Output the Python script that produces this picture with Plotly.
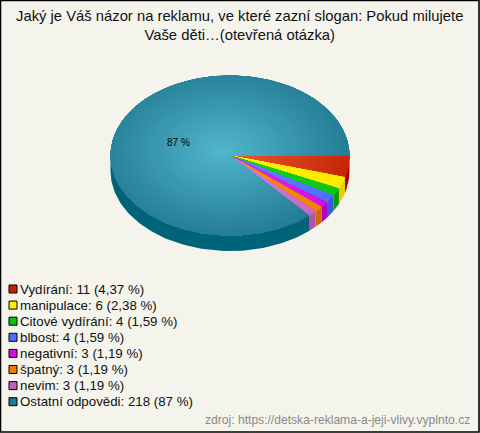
import math
import plotly.graph_objects as go

# ---- data ----
categories = ["Vydírání", "manipulace", "Citové vydírání", "blbost", "negativní", "špatný", "nevim", "Ostatní odpovědi"]
counts = [11, 6, 4, 4, 3, 3, 3, 218]
percent_labels = ["4,37", "2,38", "1,59", "1,59", "1,19", "1,19", "1,19", "87"]
inner_colors = ["#f05a35", "#fff200", "#14d814", "#5f86ff", "#e22af0", "#ff9410", "#d682d6", "#52b6cc"]
outer_colors = ["#c42200", "#ffe800", "#0cc40c", "#4f6fff", "#d010e0", "#f08000", "#c468c4", "#1f7890"]
side_colors = ["#a80000", "#e8d000", "#0a9a0a", "#3a58e0", "#b800c0", "#cc6a00", "#b054a8", "#006478"]
legend_colors = ["#c42200", "#ffee00", "#0cc40c", "#4f6fff", "#d010e0", "#f08000", "#c060c0", "#1f7a90"]
title_text = "Jaký je Váš názor na reklamu, ve které zazní slogan: Pokud milujete<br>Vaše děti…(otevřená otázka)"
source_text = "zdroj: https://detska-reklama-a-jeji-vlivy.vyplnto.cz"
big_label = "87 %"

W, H = 480, 433
BG = "#f5f4ec"
CX, CY, RX, RY, DEPTH = 230.0, 155.5, 119.5, 80.0, 15.5
x_range = [-CX / RX, (W - CX) / RX]
y_range = [(CY - H) / RY, CY / RY]
depth = DEPTH / RY
FOCUS = (-0.06, 0.06)
N_BANDS = 28


def hex_mix(a, b, t):
    ca = [int(a[i:i + 2], 16) for i in (1, 3, 5)]
    cb = [int(b[i:i + 2], 16) for i in (1, 3, 5)]
    return "rgb(%d,%d,%d)" % tuple(round(p + (q - p) * t) for p, q in zip(ca, cb))


def clip(poly, clip_poly):
    # Sutherland-Hodgman against a convex counter-clockwise polygon
    out = poly
    for i in range(len(clip_poly)):
        ax, ay = clip_poly[i]
        bx, by = clip_poly[(i + 1) % len(clip_poly)]
        inp, out = out, []
        if not inp:
            break
        def side(p):
            return (bx - ax) * (p[1] - ay) - (by - ay) * (p[0] - ax)
        for j in range(len(inp)):
            p, q = inp[j], inp[(j + 1) % len(inp)]
            sp, sq = side(p), side(q)
            if sp >= 0:
                out.append(p)
            if (sp >= 0) != (sq >= 0):
                t = sp / (sp - sq)
                out.append((p[0] + (q[0] - p[0]) * t, p[1] + (q[1] - p[1]) * t))
    return out


def arc(t0, t1, dy=0.0):
    n = max(2, int(abs(t1 - t0) / (2 * math.pi) * 260) + 2)
    # angles run clockwise from the east on screen, so y is negative sine
    return [(math.cos(t0 + (t1 - t0) * i / (n - 1)), -math.sin(t0 + (t1 - t0) * i / (n - 1)) - dy) for i in range(n)]


def add_poly(fig, pts, color):
    xs = [p[0] for p in pts] + [pts[0][0]]
    ys = [p[1] for p in pts] + [pts[0][1]]
    fig.add_trace(go.Scatter(x=xs, y=ys, mode="lines", fill="toself", fillcolor=color,
                             line=dict(width=0, color=color), hoverinfo="skip", showlegend=False))


total = sum(counts)
fig = go.Figure()
bounds = []
acc = 0
for c in counts:
    bounds.append((acc / total * 2 * math.pi, (acc + c) / total * 2 * math.pi))
    acc += c

# extruded front wall
for (t0, t1), col in zip(bounds, side_colors):
    a, b = t0, min(t1, math.pi)
    if a < b:
        add_poly(fig, arc(a, b) + arc(b, a, depth), col)

# top faces with a stepped radial shade around a common focus
for (t0, t1), inner, outer in zip(bounds, inner_colors, outer_colors):
    wedge = [(0.0, 0.0)] + arc(t0, t1)
    add_poly(fig, wedge, outer)
    for k in range(N_BANDS, 0, -1):
        r = 1.15 * k / N_BANDS
        disk = [(FOCUS[0] + r * math.cos(2 * math.pi * i / 48), FOCUS[1] + r * math.sin(2 * math.pi * i / 48)) for i in range(48)]
        part = clip(wedge, disk)
        if len(part) >= 3:
            add_poly(fig, part, hex_mix(inner, outer, (k - 0.5) / N_BANDS))

shapes = [dict(type="rect", xref="paper", yref="paper", x0=0.5 / W, x1=1 - 1 / W, y0=1 / H, y1=1 - 0.5 / H,
               line=dict(color="#000000", width=1.6), fillcolor="rgba(0,0,0,0)")]
annotations = [
    dict(x=239.5 / W, y=1 - 25.5 / H, xref="paper", yref="paper", text=title_text, showarrow=False, align="center",
         xanchor="center", yanchor="middle", font=dict(family="Liberation Sans", size=14.8, color="#111111")),
    dict(x=178.5 / W, y=1 - 142 / H, xref="paper", yref="paper", text=big_label, showarrow=False,
         xanchor="center", yanchor="middle", font=dict(family="Liberation Sans", size=10, color="#000000")),
    dict(x=472 / W, y=1 - 420 / H, xref="paper", yref="paper", text=source_text, showarrow=False,
         xanchor="right", yanchor="middle", font=dict(family="Liberation Sans", size=12.1, color="#8a8a8a")),
]
for i, (name, n, pct, col) in enumerate(zip(categories, counts, percent_labels, legend_colors)):
    yc = 289 + i * 16.1
    shapes.append(dict(type="rect", xref="paper", yref="paper", x0=9 / W, x1=17 / W,
                       y0=1 - (yc + 4) / H, y1=1 - (yc - 4) / H,
                       line=dict(color="#000000", width=1), fillcolor=col))
    annotations.append(dict(x=17.5 / W, y=1 - yc / H, xref="paper", yref="paper",
                            text=f"{name}: {n} ({pct} %)", showarrow=False,
                            xanchor="left", yanchor="middle",
                            font=dict(family="Liberation Sans", size=13.3, color="#111111")))

fig.update_layout(
    width=W, height=H, margin=dict(l=0, r=0, t=0, b=0), paper_bgcolor=BG, plot_bgcolor=BG,
    xaxis=dict(range=x_range, visible=False, fixedrange=True),
    yaxis=dict(range=y_range, visible=False, fixedrange=True),
    showlegend=False, shapes=shapes, annotations=annotations,
)
fig.write_html("out.html", config={"displayModeBar": False},
               post_script="document.body.style.margin='0';document.body.style.overflow='hidden';")
